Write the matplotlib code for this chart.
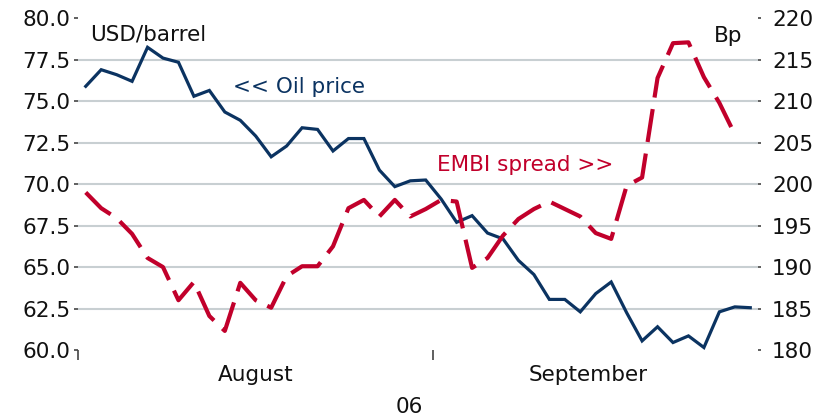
import matplotlib
matplotlib.use("Agg")
import matplotlib.pyplot as plt
import numpy as np

# ---- data (trading days, Aug–Sep 2006) ----
oil_price = [75.9, 76.9, 76.6, 76.2, 78.25, 77.6, 77.35, 75.3, 75.65, 74.35,
             73.85, 72.9, 71.65, 72.3, 73.4, 73.3, 72.0, 72.75, 72.75, 70.85,
             69.85, 70.2, 70.25, 69.1, 67.7, 68.1, 67.05, 66.7, 65.4, 64.55,
             63.05, 63.05, 62.3, 63.4, 64.1, 62.25, 60.55, 61.4, 60.45, 60.85,
             60.15, 62.3, 62.6, 62.55]
embi_spread = [199.0, 197.1, 195.9, 194.0, 191.1, 190.0, 186.0, 188.2, 184.1, 182.3,
               188.1, 186.0, 185.1, 188.9, 190.1, 190.1, 192.5, 197.1, 198.1, 196.1,
               198.1, 196.1, 197.0, 198.1, 197.9, 189.9, 191.1, 193.8, 195.8, 197.0,
               197.9, 197.0, 196.1, 194.1, 193.4, 199.8, 200.8, 212.8, 217.0, 217.1,
               212.9, 209.8, 206.0]
n_days = 44
month_labels = ["August", "September"]
month_label_pos = [11, 32.5]
month_bounds = [-0.5, 22.5]
year_label = "06"
left_ticks = [60.0, 62.5, 65.0, 67.5, 70.0, 72.5, 75.0, 77.5, 80.0]
right_ticks = [180, 185, 190, 195, 200, 205, 210, 215, 220]

BLUE = "#0b3361"
RED = "#c1002b"
GRID = "#c8cfd2"
TXT = "#111111"
FS = 15.5

W, H = 823, 419
fig = plt.figure(figsize=(W / 100, H / 100), dpi=100)
plt.rcParams['font.family'] = ['DejaVu Sans']
left, right, top, bottom = 78, 758, 18.3, 350
ax = fig.add_axes([left / W, 1 - bottom / H, (right - left) / W, (bottom - top) / H])
ax2 = ax.twinx()

x_oil = np.arange(len(oil_price))
x_embi = np.arange(len(embi_spread))

ax.plot(x_oil, oil_price, color=BLUE, lw=2.3, solid_joinstyle='miter', zorder=3)
ax2.plot(x_embi, embi_spread, color=RED, lw=3.0, dashes=(8, 2.8), zorder=3)

ax.set_xlim(-0.5, n_days - 0.5)
ax.set_ylim(60, 80)
ax2.set_ylim(180, 220)

for a in (ax, ax2):
    for s in a.spines.values():
        s.set_visible(False)

ax.set_yticks(left_ticks)
ax.set_yticklabels([f"{v:.1f}" for v in left_ticks])
ax2.set_yticks(right_ticks)
ax2.set_yticklabels([str(v) for v in right_ticks])
ax.tick_params(axis='y', direction='out', length=3, width=1.2, color="#444444",
               pad=2.5, labelsize=FS, labelcolor=TXT)
ax2.tick_params(axis='y', direction='out', length=2, width=1.2, color="#444444",
                pad=8, labelsize=FS, labelcolor=TXT)

ax.yaxis.grid(True, color=GRID, lw=1.5)
gl = ax.get_ygridlines()
gl[0].set_visible(False)
gl[-1].set_visible(False)
ax.set_axisbelow(True)

ax.set_xticks(month_bounds)
ax.set_xticklabels(["", ""])
ax.set_xticks(month_label_pos, minor=True)
ax.set_xticklabels(month_labels, minor=True)
ax.tick_params(axis='x', which='major', direction='out', length=7, width=1.2, color="#444444")
ax.tick_params(axis='x', which='minor', length=0, pad=11, labelsize=FS, labelcolor=TXT)

fig.text(409 / W, 1 - 407 / H, year_label, ha='center', va='center', fontsize=FS, color=TXT)
fig.text(90 / W, 1 - 40 / H, "USD/barrel", ha='left', va='baseline', fontsize=FS, color=TXT)
fig.text(742 / W, 1 - 41.7 / H, "Bp", ha='right', va='baseline', fontsize=FS, color=TXT)
fig.text(233 / W, 1 - 93.3 / H, "<< Oil price", ha='left', va='baseline', fontsize=FS, color=BLUE)
fig.text(437 / W, 1 - 171 / H, "EMBI spread >>", ha='left', va='baseline', fontsize=FS, color=RED)

fig.savefig("out.png", dpi=100)
